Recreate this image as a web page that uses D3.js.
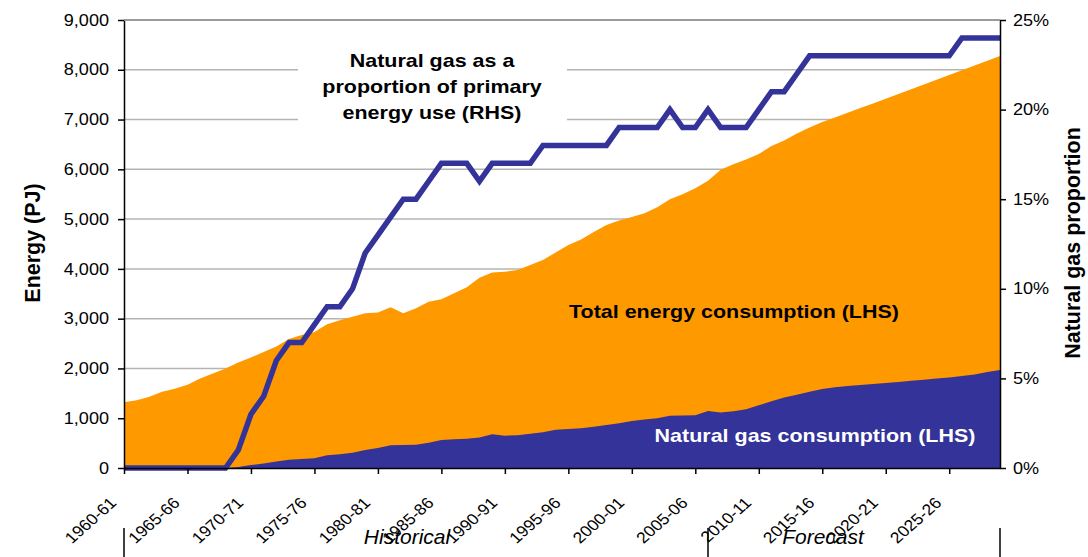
<!DOCTYPE html>
<html>
<head>
<meta charset="utf-8">
<script src="https://cdn.jsdelivr.net/npm/d3@7"></script>
<style>
  body { margin: 0; background: #fff; }
  svg { display: block; font-family: "Liberation Sans", Arial, sans-serif; }
</style>
</head>
<body>
<div id="chart"></div>
<script>
// Data
const categories = [
  "1960-61", "1961-62", "1962-63", "1963-64", "1964-65", "1965-66", "1966-67", "1967-68", "1968-69", "1969-70",
  "1970-71", "1971-72", "1972-73", "1973-74", "1974-75", "1975-76", "1976-77", "1977-78", "1978-79", "1979-80",
  "1980-81", "1981-82", "1982-83", "1983-84", "1984-85", "1985-86", "1986-87", "1987-88", "1988-89", "1989-90",
  "1990-91", "1991-92", "1992-93", "1993-94", "1994-95", "1995-96", "1996-97", "1997-98", "1998-99", "1999-00",
  "2000-01", "2001-02", "2002-03", "2003-04", "2004-05", "2005-06", "2006-07", "2007-08", "2008-09", "2009-10",
  "2010-11", "2011-12", "2012-13", "2013-14", "2014-15", "2015-16", "2016-17", "2017-18", "2018-19", "2019-20",
  "2020-21", "2021-22", "2022-23", "2023-24", "2024-25", "2025-26", "2026-27", "2027-28", "2028-29", "2029-30"
];
const tickLabels = ["1960-61", "1965-66", "1970-71", "1975-76", "1980-81", "1985-86", "1990-91",
  "1995-96", "2000-01", "2005-06", "2010-11", "2015-16", "2020-21", "2025-26"];

// PJ
const totalEnergy = [
  1320, 1360, 1430, 1530, 1590, 1670, 1800, 1900, 2000, 2120,
  2220, 2330, 2440, 2590, 2670, 2730, 2890, 2970, 3040, 3110,
  3125, 3228, 3108, 3208, 3340, 3389, 3510, 3630, 3820, 3925,
  3943, 3977, 4080, 4178, 4330, 4480, 4590, 4740, 4880, 4970,
  5040, 5120, 5240, 5400, 5500, 5620, 5770, 5990, 6100, 6200,
  6310, 6470, 6580, 6720, 6840, 6950, 7040, 7135, 7230, 7325,
  7420, 7515, 7610, 7705, 7800, 7895, 7990, 8085, 8180, 8276
];
const gasConsumption = [
  0, 0, 0, 0, 0, 0, 0, 0, 0, 20,
  60, 90, 130, 165, 180, 195, 255, 275, 305, 360,
  400, 455, 462, 465, 505, 562, 576, 590, 612, 680,
  650, 660, 690, 717, 770, 783, 800, 830, 865, 898,
  945, 975, 1000, 1050, 1055, 1060, 1145, 1115, 1140, 1180,
  1260, 1340, 1415, 1470, 1530, 1585, 1620, 1645, 1665, 1690,
  1710, 1730, 1755, 1775, 1800, 1820, 1848, 1880, 1930, 1969
];
// % of primary energy use
const gasShare = [
  0, 0, 0, 0, 0, 0, 0, 0, 0, 1,
  3, 4, 6, 7, 7, 8, 9, 9, 10, 12,
  13, 14, 15, 15, 16, 17, 17, 17, 16, 17,
  17, 17, 17, 18, 18, 18, 18, 18, 18, 19,
  19, 19, 19, 20, 19, 19, 20, 19, 19, 19,
  20, 21, 21, 22, 23, 23, 23, 23, 23, 23,
  23, 23, 23, 23, 23, 23, 24, 24, 24, 24
];
const energyTicks = [0, 1000, 2000, 3000, 4000, 5000, 6000, 7000, 8000, 9000];
const shareTicks = [0, 5, 10, 15, 20, 25];
const periodBreaks = ["1960-61", "2006-07", "2029-30"];

// Dimensions
const width = 1088;
const height = 557;
const margin = { top: 20, right: 88, bottom: 89, left: 124 };
const innerRight = width - margin.right;
const innerBottom = height - margin.bottom;
const stretch = 1.13; // reference text is a little wider than tall

const orange = "#FF9900";
const navy = "#333399";

const svg = d3.select("#chart")
  .append("svg")
  .attr("width", width)
  .attr("height", height);

// Scales
const x = d3.scalePoint()
  .domain(categories)
  .range([margin.left, innerRight]);

const y = d3.scaleLinear()
  .domain([0, 9000])
  .range([innerBottom, margin.top]);

const yRight = d3.scaleLinear()
  .domain([0, 25])
  .range([innerBottom, margin.top]);

const rows = categories.map((c, i) => ({
  cat: c, total: totalEnergy[i], gas: gasConsumption[i], share: gasShare[i]
}));

// Gridlines
svg.append("g")
  .selectAll("line")
  .data(energyTicks.filter((d) => d > 0))
  .join("line")
  .attr("x1", margin.left)
  .attr("x2", innerRight)
  .attr("y1", (d) => y(d))
  .attr("y2", (d) => y(d))
  .attr("stroke", "#b4b4b4")
  .attr("stroke-width", 1.5);

// White box behind the RHS note
svg.append("rect")
  .attr("x", 298)
  .attr("y", 36)
  .attr("width", 269)
  .attr("height", 102)
  .attr("fill", "#fff");

// Areas
const totalArea = d3.area()
  .x((d) => x(d.cat))
  .y0(y(0))
  .y1((d) => y(d.total));

const gasArea = d3.area()
  .x((d) => x(d.cat))
  .y0(y(0))
  .y1((d) => y(d.gas));

svg.append("path").datum(rows).attr("d", totalArea).attr("fill", orange);
svg.append("path").datum(rows).attr("d", gasArea).attr("fill", navy);

// Share line
const shareLine = d3.line()
  .x((d) => x(d.cat))
  .y((d) => yRight(d.share));

svg.append("path")
  .datum(rows)
  .attr("d", shareLine)
  .attr("fill", "none")
  .attr("stroke", navy)
  .attr("stroke-width", 5.5);

// Stretch axis labels horizontally, keeping their anchor
function widen(sel) {
  sel.selectAll(".tick text").each(function () {
    const t = d3.select(this);
    const tx = +t.attr("x") || 0;
    t.attr("x", 0).attr("transform", `translate(${tx},0) scale(${stretch},1)`);
  });
}

// Axes
const leftAxis = svg.append("g")
  .attr("transform", `translate(${margin.left},0)`)
  .call(d3.axisLeft(y).tickValues(energyTicks).tickFormat(d3.format(",")).tickSize(6).tickPadding(9).tickSizeOuter(0));

const rightAxis = svg.append("g")
  .attr("transform", `translate(${innerRight},0)`)
  .call(d3.axisRight(yRight).tickValues(shareTicks).tickFormat((d) => d + "%").tickSize(6).tickPadding(7).tickSizeOuter(0));

const bottomAxis = svg.append("g")
  .attr("transform", `translate(0,${innerBottom})`)
  .call(d3.axisBottom(x).tickValues(tickLabels).tickSize(6).tickSizeOuter(0));

[leftAxis, rightAxis, bottomAxis].forEach((g) => {
  g.selectAll("text").attr("font-size", 16).attr("fill", "#000")
    .style("font-family", "'Liberation Sans', Arial, sans-serif");
  g.selectAll("line, path").attr("stroke", "#000").attr("stroke-width", 1.5);
});
widen(leftAxis);
widen(rightAxis);

bottomAxis.selectAll(".tick text")
  .attr("x", 0)
  .attr("y", 0)
  .attr("dy", 0)
  .attr("font-size", 15.5)
  .attr("text-anchor", "end")
  .attr("transform", `translate(-7,36) scale(${stretch},1) rotate(-45)`);

// Top border
svg.append("line")
  .attr("x1", margin.left).attr("x2", innerRight)
  .attr("y1", margin.top).attr("y2", margin.top)
  .attr("stroke", "#8c8c8c").attr("stroke-width", 1.5);

// Historical / forecast brackets
svg.append("g")
  .selectAll("line")
  .data(periodBreaks)
  .join("line")
  .attr("x1", (d) => x(d))
  .attr("x2", (d) => x(d))
  .attr("y1", 528)
  .attr("y2", height)
  .attr("stroke", "#000")
  .attr("stroke-width", 1.5);

svg.append("text")
  .attr("x", 407).attr("y", 544)
  .attr("text-anchor", "middle")
  .style("font-size", "21px").style("font-style", "italic")
  .text("Historical");

svg.append("text")
  .attr("x", 823).attr("y", 544)
  .attr("text-anchor", "middle")
  .style("font-size", "21px").style("font-style", "italic")
  .text("Forecast");

// Labels inside the chart
function label(cx, cy, txt, fill) {
  svg.append("text")
    .attr("transform", `translate(${cx},${cy}) scale(${stretch},1)`)
    .attr("text-anchor", "middle")
    .attr("fill", fill)
    .style("font-size", "19px")
    .style("font-weight", "bold")
    .text(txt);
}

label(432, 67, "Natural gas as a", "#000");
label(432, 93, "proportion of primary", "#000");
label(432, 119, "energy use (RHS)", "#000");
label(734, 318, "Total energy consumption (LHS)", "#000");
label(815, 442, "Natural gas consumption (LHS)", "#fff");

// Axis titles
svg.append("text")
  .attr("transform", "translate(40,243) rotate(-90) scale(1,1.06)")
  .attr("text-anchor", "middle")
  .style("font-size", "21.5px")
  .style("font-weight", "bold")
  .text("Energy (PJ)");

svg.append("text")
  .attr("transform", "translate(1080,243) rotate(-90) scale(1,1.06)")
  .attr("text-anchor", "middle")
  .style("font-size", "21.5px")
  .style("font-weight", "bold")
  .text("Natural gas proportion");
</script>
</body>
</html>
